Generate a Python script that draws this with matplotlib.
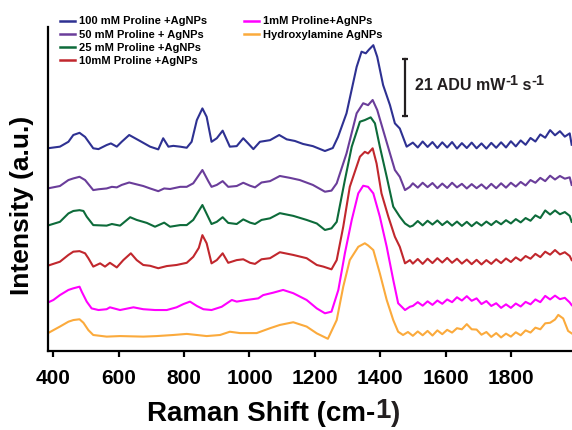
import numpy as np
import matplotlib
matplotlib.use('Agg')
import matplotlib.pyplot as plt
from matplotlib.lines import Line2D

plt.rcParams['font.family'] = ['Liberation Sans', 'DejaVu Sans']
plt.rcParams['font.weight'] = 'bold'

# Raman shift (cm-1) and stacked intensity (ADU mW-1 s-1) for each spectrum
x_100 = [382, 420, 446, 461, 480, 497, 522, 538, 563, 576, 594, 609, 632, 650, 665, 696, 721, 736, 752, 767,
         788, 808, 823, 839, 856, 869, 884, 900, 918, 940, 961, 981, 996, 1012, 1032, 1063, 1091, 1114, 1139, 1164,
         1194, 1231, 1255, 1271, 1297, 1328, 1343, 1356, 1366, 1379, 1391, 1409, 1430, 1445, 1460, 1481]
y_100 = [74.7, 75.3, 77.1, 79.6, 80.4, 78.9, 74.7, 74.4, 75.9, 76.5, 75.3, 77.1, 79.6, 78.4, 77.4, 75.3, 74.3, 78.4, 75.3, 75.6,
         75.3, 74.9, 77.1, 85.1, 89.4, 86.3, 77.1, 78.4, 81.2, 75.3, 75.5, 78.4, 76.5, 74.4, 77.1, 77.7, 79.6, 78.0, 77.4, 76.3,
         75.5, 73.7, 74.8, 78.9, 87.6, 104.7, 110.3, 109.7, 111.1, 112.7, 108.4, 98.0, 90.6, 83.9, 82.0, 75.3]

x_50 = [382, 420, 446, 461, 480, 497, 522, 538, 563, 579, 594, 609, 632, 655, 675, 696, 721, 739, 757, 788,
        808, 828, 856, 874, 884, 900, 918, 935, 961, 981, 1002, 1017, 1037, 1063, 1093, 1124, 1154, 1194, 1231, 1251,
        1267, 1297, 1328, 1348, 1363, 1377, 1391, 1409, 1430, 1445, 1460, 1476, 1491]
y_50 = [59.9, 60.8, 63.0, 63.6, 64.2, 63.0, 59.3, 59.6, 59.9, 60.5, 60.3, 61.2, 62.1, 61.4, 60.8, 59.9, 58.9, 59.9, 59.7, 60.5,
        60.5, 61.8, 66.7, 62.6, 60.5, 61.2, 62.6, 60.5, 60.8, 62.0, 60.9, 60.3, 62.1, 62.6, 64.5, 63.8, 63.0, 61.2, 58.7, 59.1,
        61.8, 72.8, 87.6, 91.3, 90.6, 92.5, 88.8, 81.4, 72.8, 66.7, 64.2, 59.3, 60.5]

x_25 = [382, 420, 446, 461, 480, 492, 502, 522, 563, 579, 604, 635, 655, 686, 711, 739, 757, 788, 808, 828,
        856, 874, 884, 900, 918, 935, 961, 981, 1002, 1017, 1037, 1063, 1093, 1134, 1175, 1206, 1231, 1251, 1267, 1292,
        1313, 1338, 1353, 1371, 1384, 1399, 1420, 1440, 1460, 1476, 1491]
y_25 = [46.2, 47.6, 50.7, 51.6, 51.9, 51.6, 49.5, 46.4, 46.2, 46.8, 46.2, 49.3, 48.3, 47.2, 45.8, 47.3, 45.8, 46.4, 46.4, 48.3,
        53.8, 49.3, 46.8, 47.6, 49.3, 47.2, 46.8, 48.5, 47.3, 46.8, 48.3, 48.9, 50.8, 49.8, 48.3, 47.0, 44.6, 45.2, 47.6, 63.0,
        75.3, 84.5, 85.1, 86.1, 83.9, 75.3, 64.2, 53.2, 49.5, 47.0, 45.8]

x_10 = [382, 420, 446, 461, 480, 497, 507, 522, 543, 558, 573, 594, 614, 637, 655, 675, 696, 721, 747, 777,
        808, 828, 845, 856, 869, 884, 900, 918, 935, 961, 981, 1002, 1017, 1037, 1063, 1093, 1134, 1175, 1206, 1226,
        1251, 1267, 1287, 1307, 1338, 1353, 1363, 1377, 1389, 1404, 1425, 1445, 1460, 1476, 1491]
y_10 = [31.4, 32.9, 35.4, 36.6, 36.8, 36.0, 34.2, 31.1, 32.3, 31.1, 32.5, 30.8, 33.5, 36.0, 33.5, 31.7, 31.4, 30.5, 31.3, 31.7,
        32.5, 34.7, 38.0, 42.7, 39.7, 32.3, 33.5, 36.0, 32.5, 33.5, 33.8, 32.5, 32.1, 33.8, 34.2, 36.4, 35.4, 34.2, 31.7, 31.1,
        30.1, 33.5, 45.8, 60.5, 71.6, 73.4, 72.8, 74.7, 69.1, 58.1, 49.5, 42.1, 38.4, 32.3, 33.5]

x_1 = [382, 400, 420, 446, 461, 480, 487, 502, 517, 538, 563, 573, 604, 645, 675, 711, 747, 777, 798, 818,
       839, 859, 884, 915, 946, 961, 991, 1027, 1042, 1073, 1103, 1134, 1175, 1206, 1231, 1251, 1272, 1292, 1313, 1333,
       1348, 1363, 1379, 1399, 1420, 1440, 1455, 1476, 1491]
y_1 = [17.8, 18.8, 20.6, 22.5, 23.1, 23.7, 21.8, 18.2, 15.7, 15.1, 15.4, 16.1, 15.1, 16.1, 15.4, 15.1, 15.1, 16.1, 17.3, 18.2,
       16.6, 15.4, 15.1, 16.3, 18.8, 18.2, 18.8, 19.4, 20.6, 21.5, 22.5, 21.3, 18.8, 15.7, 13.9, 14.5, 22.5, 36.0, 48.3, 58.1,
       60.9, 60.5, 58.1, 49.5, 38.4, 26.2, 17.6, 15.1, 16.3]

x_hya = [382, 420, 446, 461, 480, 492, 507, 522, 563, 604, 675, 716, 767, 808, 839, 869, 910, 940, 971, 1022,
         1063, 1093, 1134, 1175, 1206, 1240, 1267, 1287, 1307, 1333, 1353, 1363, 1379, 1399, 1420, 1440, 1455, 1470, 1485]
y_hya = [6.5, 9.0, 10.8, 11.4, 11.7, 10.4, 7.7, 5.9, 5.3, 5.5, 5.3, 5.5, 5.9, 6.3, 5.9, 5.5, 5.9, 7.1, 6.6, 6.6,
         8.4, 9.6, 10.6, 9.0, 6.5, 4.5, 11.4, 23.7, 33.5, 38.4, 39.7, 38.9, 37.2, 28.6, 18.8, 11.4, 7.1, 5.9, 7.0]

# high-wavenumber ripple region
tail_x = [1500, 1515, 1530, 1545, 1560, 1575, 1590, 1605, 1620, 1635, 1650, 1665, 1680, 1695, 1710, 1725, 1740,
          1755, 1770, 1785, 1800, 1815, 1830, 1845, 1860, 1875, 1890, 1905, 1920, 1935, 1950, 1965, 1980, 1986]
tail_100 = [76.8, 75.0, 77.2, 75.2, 77.0, 74.8, 76.9, 75.0, 77.0, 74.6, 76.6, 74.8, 76.8, 74.7, 76.5, 74.6, 76.7,
            74.9, 76.9, 75.0, 77.3, 75.4, 77.6, 76.0, 78.5, 77.2, 79.8, 78.6, 81.4, 79.5, 81.0, 79.0, 80.2, 76.0]
tail_50 = [61.8, 60.2, 62.0, 60.4, 61.9, 60.0, 61.7, 60.1, 62.0, 60.3, 61.6, 59.9, 61.5, 60.0, 61.4, 59.8, 61.6,
           60.0, 61.8, 60.2, 62.0, 60.6, 62.3, 61.0, 63.0, 62.0, 63.8, 62.6, 64.6, 63.2, 64.5, 63.5, 64.0, 61.2]
tail_25 = [46.2, 47.9, 46.3, 48.0, 46.6, 48.1, 46.4, 47.8, 46.2, 47.7, 46.1, 47.6, 46.0, 47.5, 46.2, 47.7, 46.4,
           47.9, 46.7, 48.2, 47.0, 48.6, 47.4, 49.0, 48.0, 50.0, 49.0, 51.8, 50.3, 51.8, 50.4, 51.2, 49.8, 47.6]
tail_10 = [32.2, 33.9, 32.1, 34.0, 32.4, 34.2, 32.6, 34.3, 32.5, 34.0, 32.2, 33.7, 32.0, 33.6, 31.9, 33.5, 32.1,
           33.8, 32.4, 34.1, 32.8, 34.5, 33.3, 35.0, 34.0, 35.8, 34.6, 36.6, 35.5, 37.2, 35.6, 36.4, 35.0, 33.5]
tail_1 = [16.6, 18.0, 16.7, 18.3, 17.0, 18.6, 17.4, 19.0, 18.0, 19.8, 18.6, 20.2, 18.5, 19.4, 17.3, 18.4, 16.6,
          17.6, 15.9, 17.2, 15.9, 17.5, 16.4, 18.1, 17.2, 19.0, 18.0, 20.3, 19.0, 20.4, 19.1, 19.6, 17.9, 16.9]
tail_x_hya = [1500, 1515, 1530, 1545, 1560, 1575, 1590, 1605, 1620, 1635, 1650, 1665, 1680, 1695, 1710, 1725, 1740,
              1755, 1770, 1785, 1800, 1815, 1830, 1845, 1860, 1875, 1890, 1905, 1920, 1935, 1945, 1960, 1975, 1986]
tail_hya = [5.6, 7.2, 5.8, 7.4, 5.7, 7.6, 6.2, 7.8, 6.8, 8.4, 8.0, 9.9, 8.0, 7.9, 6.0, 7.0, 5.2,
            6.6, 5.0, 6.4, 5.3, 6.9, 5.8, 7.6, 6.8, 8.6, 8.0, 10.2, 10.4, 11.6, 13.3, 12.0, 7.4, 6.5]

labels = ['100 mM Proline +AgNPs', '50 mM Proline + AgNPs', '25 mM Proline +AgNPs',
          '10mM Proline +AgNPs', '1mM Proline+AgNPs', 'Hydroxylamine AgNPs']
colors = ['#2e3192', '#6a3d9a', '#0d6b3a', '#c1272d', '#ff00ff', '#fbaa3c']

spectra = [
    (x_100 + tail_x, y_100 + tail_100),
    (x_50 + tail_x, y_50 + tail_50),
    (x_25 + tail_x, y_25 + tail_25),
    (x_10 + tail_x, y_10 + tail_10),
    (x_1 + tail_x, y_1 + tail_1),
    (x_hya + tail_x_hya, y_hya + tail_hya),
]

scale_bar = 21  # ADU mW-1 s-1
bar_x = 1476
bar_y0 = 86.6

W, H = 572, 430
fig = plt.figure(figsize=(W / 100, H / 100), dpi=100)
ax = fig.add_axes([47.5 / W, 79 / H, 1 - 47.5 / W, 324 / H])

for (xs, ys), c in zip(spectra, colors):
    ax.plot(xs, ys, color=c, lw=1.5, solid_joinstyle='round')

ax.set_xlim(382, 1987)
ax.set_ylim(0, 119.4)
for s in ['top', 'right']:
    ax.spines[s].set_visible(False)
for s in ['left', 'bottom']:
    ax.spines[s].set_linewidth(1.6)
ax.set_yticks([])
ax.set_xticks(np.arange(400, 1801, 200))
ax.tick_params(axis='x', direction='out', length=4, width=1.6, pad=9, labelsize=15)
for t in ax.get_xticklabels():
    t.set_fontweight('bold')

# scale bar
ax.plot([bar_x, bar_x], [bar_y0, bar_y0 + scale_bar], color='#231f20', lw=1.6,
        marker='_', markersize=5, markeredgewidth=1.6)


def chain_text(first, parts):
    t = first
    for s, rise, sz in parts:
        t = ax.annotate(s, xy=(1, 0), xycoords=t, xytext=(0, rise), textcoords='offset points',
                        fontsize=sz, fontweight='bold', va='bottom', ha='left', color='#231f20')
    return t


t0 = ax.text(1506, 96.0, '21 ADU mW', fontsize=11.5, fontweight='bold', va='baseline', color='#231f20')
chain_text(t0, [('-1', 4, 10.5), (' s', -4, 11.5), ('-1', 4, 10.5)])

# axis titles
fig.text(22 / W, 1 - 205 / H, 'Intensity (a.u.)', rotation=90, fontsize=19,
         fontweight='bold', ha='center', va='center')
xl = fig.text(147 / W, 1 - 421 / H, 'Raman Shift (cm-', fontsize=20, fontweight='bold',
              ha='left', va='baseline')
chain_text(xl, [('1', 2, 20), (')', -2, 20)])

# legend in two blocks
handles = [Line2D([], [], color=c, lw=1.8) for c in colors]
leg_kw = dict(frameon=False, fontsize=8, handlelength=1.35, handletextpad=0.4,
              labelspacing=0.28, borderpad=0, borderaxespad=0, loc='upper left')
leg1 = fig.legend(handles[:4], labels[:4], bbox_to_anchor=(60 / W, 1 - 16.5 / H), **leg_kw)
leg2 = fig.legend(handles[4:], labels[4:], bbox_to_anchor=(244 / W, 1 - 16.5 / H), **leg_kw)
for leg in (leg1, leg2):
    for t in leg.get_texts():
        t.set_fontweight('bold')

fig.savefig('out.png', dpi=100)
